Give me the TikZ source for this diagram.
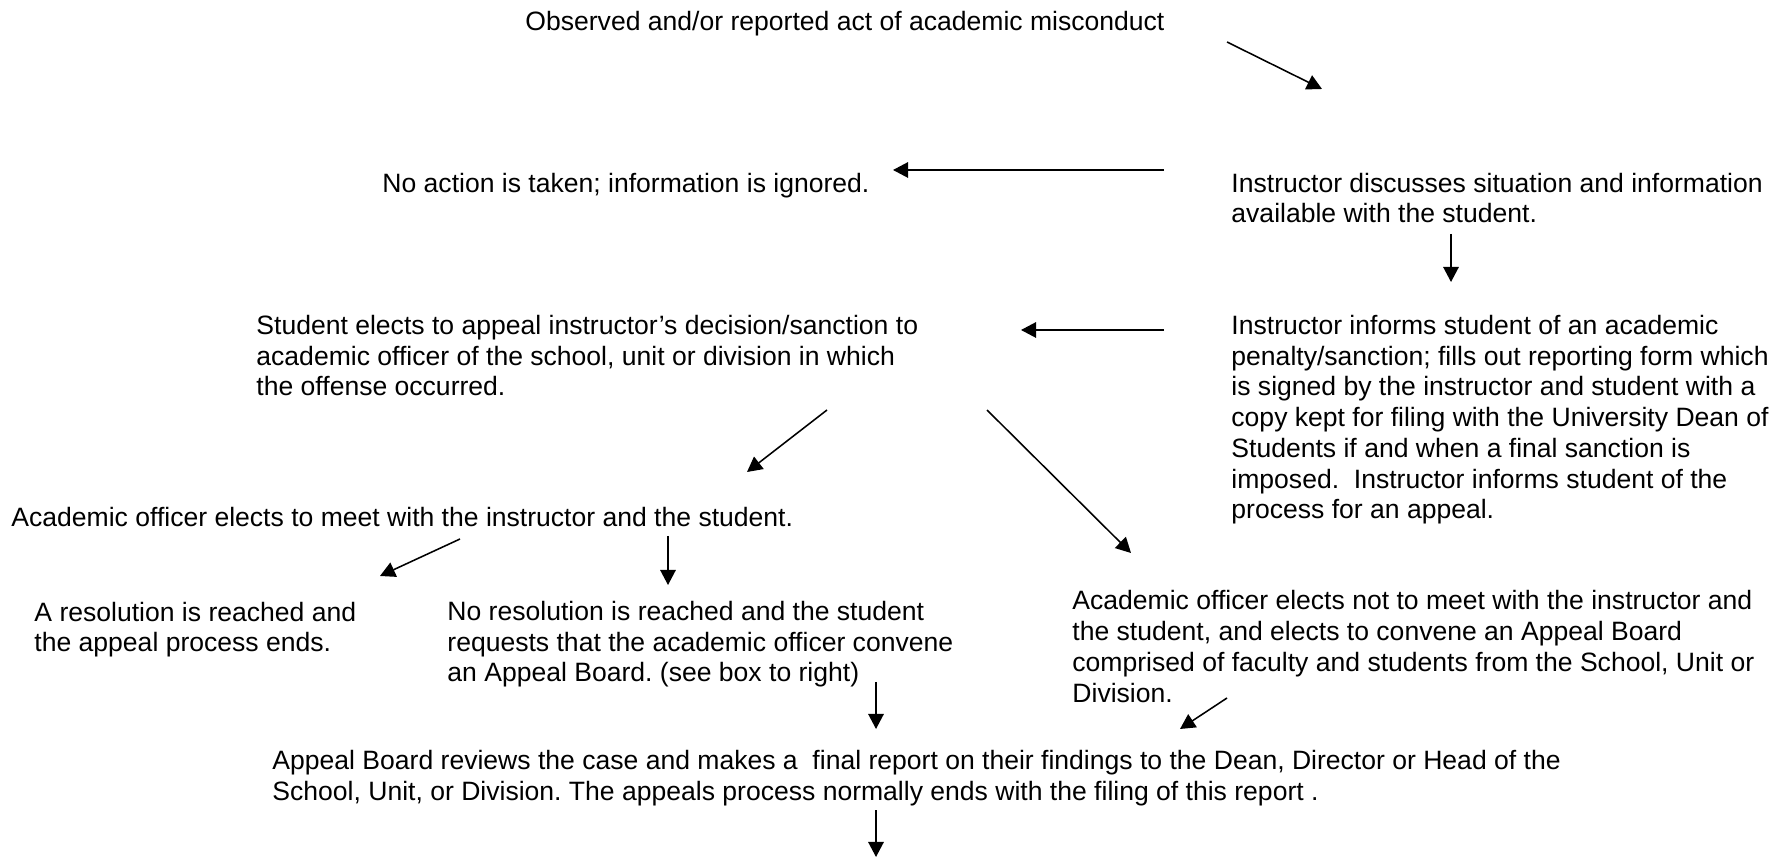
\documentclass[tikz,border=0pt]{standalone}
\usepackage{fontspec}
\setmainfont{Liberation Sans}
\usetikzlibrary{arrows.meta}
\frenchspacing

\tikzset{
  txt/.style={anchor=base west, inner sep=0pt, align=left,
    font=\fontsize{12}{13.9}\selectfont},
  flow/.style={-{Triangle[length=6.8pt,width=7pt]}, line width=0.7pt}
}

\begin{document}
\begin{tikzpicture}[x=0.452pt, y=-0.452pt]
  \useasboundingbox (0,0) rectangle (1789,859);

  % Steps (anchored at the baseline of the last line)
  \node[txt] (observed) at (525,30.5) {Observed and/or reported act of academic misconduct};
  \node[txt] (noaction) at (382,192.5) {No action is taken; information is ignored.};
  \node[txt] (discuss) at (1231,223) {Instructor discusses situation and information\\available with the student.};
  \node[txt] (informs) at (1231,519) {Instructor informs student of an academic\\penalty/sanction; fills out reporting form which\\is signed by the instructor and student with a\\copy kept for filing with the University Dean of\\Students if and when a final sanction is\\imposed.~ Instructor informs student of the\\process for an appeal.};
  \node[txt] (appeal) at (256,396) {Student elects to appeal instructor’s decision/sanction to\\academic officer of the school, unit or division in which\\the offense occurred.};
  \node[txt] (meet) at (11,526.5) {Academic officer elects to meet with the instructor and the student.};
  \node[txt] (resolved) at (34,652) {A resolution is reached and\\the appeal process ends.};
  \node[txt] (unresolved) at (447,682) {No resolution is reached and the student\\requests that the academic officer convene\\an Appeal Board. (see box to right)};
  \node[txt] (nomeet) at (1072,702) {Academic officer elects not to meet with the instructor and\\the student, and elects to convene an Appeal Board\\comprised of faculty and students from the School, Unit or\\Division.};
  \node[txt] (board) at (272,800) {Appeal Board reviews the case and makes a~ final report on their findings to the Dean, Director or Head of the\\School, Unit, or Division. The appeals process normally ends with the filing of this report .};

  % Arrow ends
  \coordinate (a1s) at (1227,42);  \coordinate (a1e) at (1322,89);
  \coordinate (a2s) at (1164,170); \coordinate (a2e) at (893,170);
  \coordinate (a3s) at (1451,234); \coordinate (a3e) at (1451,282);
  \coordinate (a4s) at (1164,330); \coordinate (a4e) at (1021,330);
  \coordinate (a5s) at (827,410);  \coordinate (a5e) at (747,472);
  \coordinate (a6s) at (987,410);  \coordinate (a6e) at (1131,553);
  \coordinate (a7s) at (460,539);  \coordinate (a7e) at (380,576);
  \coordinate (a8s) at (668,536);  \coordinate (a8e) at (668,585);
  \coordinate (a9s) at (876,682);  \coordinate (a9e) at (876,729);
  \coordinate (a10s) at (1227,698); \coordinate (a10e) at (1180,729);
  \coordinate (a11s) at (876,810); \coordinate (a11e) at (876,857);

  % Arrows
  \draw[flow] (a1s) -- (a1e);
  \draw[flow] (a2s) -- (a2e);
  \draw[flow] (a3s) -- (a3e);
  \draw[flow] (a4s) -- (a4e);
  \draw[flow] (a5s) -- (a5e);
  \draw[flow] (a6s) -- (a6e);
  \draw[flow] (a7s) -- (a7e);
  \draw[flow] (a8s) -- (a8e);
  \draw[flow] (a9s) -- (a9e);
  \draw[flow] (a10s) -- (a10e);
  \draw[flow] (a11s) -- (a11e);
\end{tikzpicture}
\end{document}
